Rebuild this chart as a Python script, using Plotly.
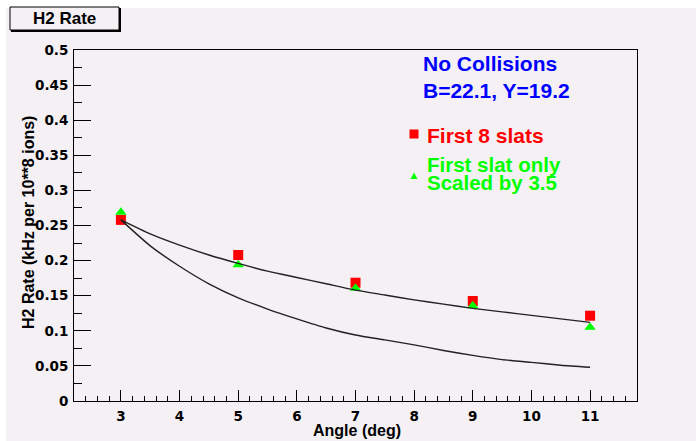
import plotly.graph_objects as go

# ---------------- data ----------------
angles = [3, 5, 7, 9, 11]
rate_first8 = [0.258, 0.208, 0.1685, 0.1425, 0.1215]
rate_first1_scaled = [0.269, 0.194, 0.1605, 0.1358, 0.105]

curve_x = [3, 3.5, 4, 4.5, 5, 5.5, 6, 6.5, 7, 7.5, 8, 8.5, 9, 9.5, 10, 10.5, 11]
curve_upper = [0.258, 0.238, 0.222, 0.208, 0.196, 0.185, 0.176, 0.167, 0.158,
               0.151, 0.144, 0.138, 0.132, 0.127, 0.122, 0.117, 0.112]
curve_lower = [0.258, 0.221, 0.192, 0.167, 0.147, 0.131, 0.117, 0.104, 0.094,
               0.087, 0.080, 0.072, 0.065, 0.059, 0.055, 0.051, 0.048]

x_tickvals = [3, 4, 5, 6, 7, 8, 9, 10, 11]
y_tickvals = [0, 0.05, 0.1, 0.15, 0.2, 0.25, 0.3, 0.35, 0.4, 0.45, 0.5]
y_ticktext = ["0", "0.05", "0.1", "0.15", "0.2", "0.25", "0.3", "0.35", "0.4", "0.45", "0.5"]

# ---------------- layout geometry ----------------
W, H = 696, 441
L, R, T, B = 74, 637, 50, 401
BG = "#f4f0f4"


def fx(px):
    return (px - L) / (R - L)


def fy(py):
    return (B - py) / (B - T)


fig = go.Figure()

fig.add_trace(go.Scatter(x=angles, y=rate_first8, mode="markers",
                         marker=dict(symbol="square", size=10, color="#ff0000", line=dict(width=0)),
                         showlegend=False, hoverinfo="skip"))
fig.add_trace(go.Scatter(x=angles, y=rate_first1_scaled, mode="markers",
                         marker=dict(symbol="triangle-up", size=10, color="#00ff00", line=dict(width=0)),
                         showlegend=False, hoverinfo="skip"))
fig.add_trace(go.Scatter(x=curve_x, y=curve_upper, mode="lines", line_shape="spline",
                         line=dict(color="#222222", width=1.4, smoothing=0.6),
                         showlegend=False, hoverinfo="skip"))
fig.add_trace(go.Scatter(x=curve_x, y=curve_lower, mode="lines", line_shape="spline",
                         line=dict(color="#222222", width=1.4, smoothing=0.6),
                         showlegend=False, hoverinfo="skip"))

tick_font = dict(family="DejaVu Sans", size=13.5, color="black", weight="bold")

fig.update_xaxes(range=[2.2, 11.8], tickmode="array", tickvals=x_tickvals,
                 ticks="inside", ticklen=11, tickwidth=1, tickcolor="black",
                 minor=dict(ticks="inside", ticklen=5, dtick=0.2, tick0=3, tickcolor="black", tickwidth=1),
                 showline=True, linecolor="black", linewidth=1, mirror=True,
                 showgrid=False, zeroline=False, tickfont=tick_font, ticklabelstandoff=3)
fig.update_yaxes(range=[0, 0.5], tickmode="array", tickvals=y_tickvals, ticktext=y_ticktext,
                 ticks="inside", ticklen=17, tickwidth=1, tickcolor="black",
                 minor=dict(ticks="inside", ticklen=8, dtick=0.025, tick0=0, tickcolor="black", tickwidth=1),
                 showline=True, linecolor="black", linewidth=1, mirror=True,
                 showgrid=False, zeroline=False, tickfont=tick_font, ticklabelstandoff=2)

shapes = [
    # white strips at top and left of canvas
    dict(type="rect", xref="paper", yref="paper", x0=fx(0), x1=fx(W), y0=fy(0), y1=fy(8),
         fillcolor="white", line=dict(width=0), layer="above"),
    dict(type="rect", xref="paper", yref="paper", x0=fx(0), x1=fx(6), y0=fy(0), y1=fy(H),
         fillcolor="white", line=dict(width=0), layer="above"),
    # title box shadow + box
    dict(type="rect", xref="paper", yref="paper", x0=fx(11), x1=fx(121), y0=fy(32), y1=fy(8),
         fillcolor="black", line=dict(width=0), layer="above"),
    dict(type="rect", xref="paper", yref="paper", x0=fx(10), x1=fx(119), y0=fy(30), y1=fy(7),
         fillcolor=BG, line=dict(color="black", width=1), layer="above"),
    # legend keys
    dict(type="rect", xref="paper", yref="paper", x0=fx(409.5), x1=fx(418.5), y0=fy(138.5), y1=fy(129.5),
         fillcolor="#ff0000", line=dict(width=0), layer="above"),
    dict(type="path", xref="paper", yref="paper",
         path=f"M {fx(410.5)} {fy(179)} L {fx(417.5)} {fy(179)} L {fx(414)} {fy(172.5)} Z",
         fillcolor="#00ff00", line=dict(width=0), layer="above"),
]

bold = "Liberation Sans"
annotations = [
    dict(text="<b>H2 Rate</b>", x=fx(64.5), y=fy(18.5), font=dict(family=bold, size=17, color="black"),
         xanchor="center", yanchor="middle"),
    dict(text="<b>No Collisions</b>", x=fx(421), y=fy(63), font=dict(family=bold, size=21, color="#0000ff"),
         xanchor="left", yanchor="middle"),
    dict(text="<b>B=22.1, Y=19.2</b>", x=fx(421), y=fy(91), font=dict(family=bold, size=21, color="#0000ff"),
         xanchor="left", yanchor="middle"),
    dict(text="<b>First 8 slats</b>", x=fx(425), y=fy(135), font=dict(family=bold, size=21, color="#ff0000"),
         xanchor="left", yanchor="middle"),
    dict(text="<b>First slat only</b>", x=fx(425), y=fy(164), font=dict(family=bold, size=20.5, color="#00ff00"),
         xanchor="left", yanchor="middle"),
    dict(text="<b>Scaled by 3.5</b>", x=fx(425), y=fy(182.5), font=dict(family=bold, size=20.5, color="#00ff00"),
         xanchor="left", yanchor="middle"),
    dict(text="<b>Angle (deg)</b>", x=fx(357), y=fy(430), font=dict(family=bold, size=16, color="black"),
         xanchor="center", yanchor="middle"),
    dict(text="<b>H2 Rate (kHz per 10**8 ions)</b>", x=fx(29), y=fy(223), textangle=-90,
         font=dict(family=bold, size=16, color="black"), xanchor="center", yanchor="middle"),
]
for a in annotations:
    a.update(xref="paper", yref="paper", showarrow=False)

fig.update_layout(width=W, height=H, margin=dict(l=L, r=W - R, t=T, b=H - B, pad=0),
                  paper_bgcolor=BG, plot_bgcolor=BG, shapes=shapes, annotations=annotations,
                  showlegend=False)

fig.write_html("out.html", config={"displayModeBar": False})
